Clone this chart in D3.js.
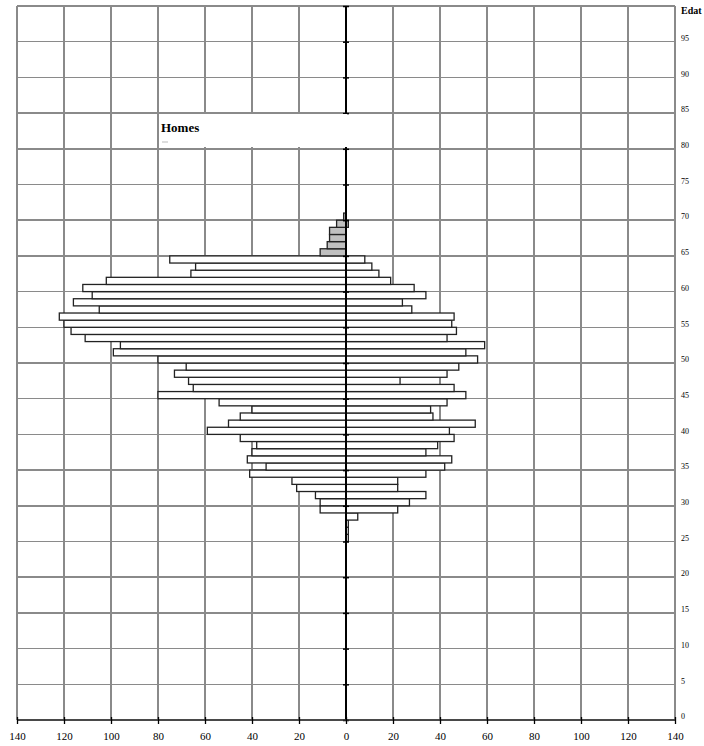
<!DOCTYPE html>
<html lang="ca">
<head>
<meta charset="UTF-8">
<title>Homes</title>
<script src="https://cdn.jsdelivr.net/npm/d3@7/dist/d3.min.js"></script>
<style>
    body{ margin:0; background:#fff; }
    .grid line{ stroke:#8a8a8a; stroke-width:1.5; shape-rendering:crispEdges; }
    .bar{ stroke:#222; stroke-width:1.3; }
    .lab{ font-family:"Liberation Serif","Times New Roman",serif; fill:#000; }
</style>
</head>
<body>
<div id="root"></div>
<script>
    // edats amb barres blanques (25..64) i grises (65..70)
    let ages = [25,26,27,28,29,30,31,32,33,34,35,36,37,38,39,40,41,42,43,44,
                45,46,47,48,49,50,51,52,53,54,55,56,57,58,59,60,61,62,63,64]
    let homes = [0,0,0,0,11,11,13,21,23,41,34,42,40,38,45,59,50,45,40,54,
                 80,65,67,73,68,80,99,96,111,117,120,122,105,116,108,112,102,66,64,75]
    let dones = [1,1,1,5,22,27,34,22,22,34,42,45,34,39,46,44,55,37,36,43,
                 51,46,23,43,48,56,51,59,43,47,45,46,28,24,34,29,19,14,11,8]
    let agesGrey = [65,66,67,68,69,70]
    let homesGrey = [11,8,7,7,4,1]
    let donesGrey = [0,0,0,0,1,0]
    let xTicks = [-140,-120,-100,-80,-60,-40,-20,0,20,40,60,80,100,120,140]
    let yTicks = [0,5,10,15,20,25,30,35,40,45,50,55,60,65,70,75,80,85,90,95]

    let width = 704, height = 746
    let svg = d3.select("#root").append("svg").attr("width",width).attr("height",height)

    let x = d3.scaleLinear().domain([-140,140]).range([17,675])
    let y = d3.scaleLinear().domain([0,100]).range([720,6])

    // graella
    let grid = svg.append("g").classed("grid",true)
    grid.selectAll("line.v").data(xTicks).enter().append("line").classed("v",true)
        .attr("x1",d=>x(d)).attr("x2",d=>x(d)).attr("y1",y(100)).attr("y2",y(0))
    grid.selectAll("line.h").data(yTicks.concat([100])).enter().append("line").classed("h",true)
        .attr("x1",x(-140)).attr("x2",x(140)).attr("y1",d=>y(d)).attr("y2",d=>y(d))

    function drawBars(a, v, side, fill){
        svg.append("g").selectAll("rect").data(a.map((d,i)=>({age:d, v:v[i]})).filter(d=>d.v>0))
            .enter().append("rect").classed("bar",true)
            .attr("x",d=> side<0 ? x(-d.v) : x(0))
            .attr("width",d=> Math.abs(x(d.v)-x(0)))
            .attr("y",d=>y(d.age+1))
            .attr("height",d=>y(d.age)-y(d.age+1))
            .attr("fill",fill)
    }
    drawBars(ages,homes,-1,"#fff")
    drawBars(ages,dones,1,"#fff")
    drawBars(agesGrey,homesGrey,-1,"#c0c0c0")
    drawBars(agesGrey,donesGrey,1,"#c0c0c0")

    // eix central
    let yAxis = d3.axisLeft(y).tickValues(yTicks.concat([100])).tickSize(6).tickFormat("")
    let ca = svg.append("g").attr("transform","translate("+(x(0)+3)+",0)").call(yAxis)
    ca.select(".domain").remove()
    ca.selectAll(".tick line").attr("stroke","#000").attr("stroke-width",1.5)
    svg.append("line").attr("x1",x(0)).attr("x2",x(0)).attr("y1",y(100)).attr("y2",y(0))
        .attr("stroke","#000").attr("stroke-width",2)

    // eix inferior
    let xAxis = d3.axisBottom(x).tickValues(xTicks).tickSize(4).tickPadding(8).tickFormat(d=>Math.abs(d))
    let xa = svg.append("g").attr("transform","translate(0,"+y(0)+")").call(xAxis)
    xa.select(".domain").attr("stroke","#333").attr("stroke-width",1.5).attr("d","M"+x(-140)+",0H"+x(140))
    xa.selectAll(".tick line").attr("stroke","#000").attr("stroke-width",1.3).attr("y1",-3)
    xa.selectAll("text").attr("class","lab").style("font-size","11px")

    // etiquetes d'edat
    svg.append("g").selectAll("text").data(yTicks).enter().append("text").classed("lab",true)
        .attr("x",681).attr("y",d=>y(d)).attr("dy","-0.1em")
        .style("font-size","8px").text(d=>d)
    svg.append("text").classed("lab",true).attr("x",681).attr("y",14)
        .style("font-size","10px").style("font-weight","bold").text("Edat")

    // títol
    svg.append("rect").attr("x",159).attr("y",114).attr("width",188).attr("height",33).attr("fill","#fff")
    svg.append("text").classed("lab",true).attr("x",161).attr("y",132)
        .style("font-size","13px").style("font-weight","bold").text("Homes")
    svg.append("line").attr("x1",162).attr("x2",168).attr("y1",142).attr("y2",142)
        .attr("stroke","#bbb").attr("stroke-width",1)
</script>
</body>
</html>
